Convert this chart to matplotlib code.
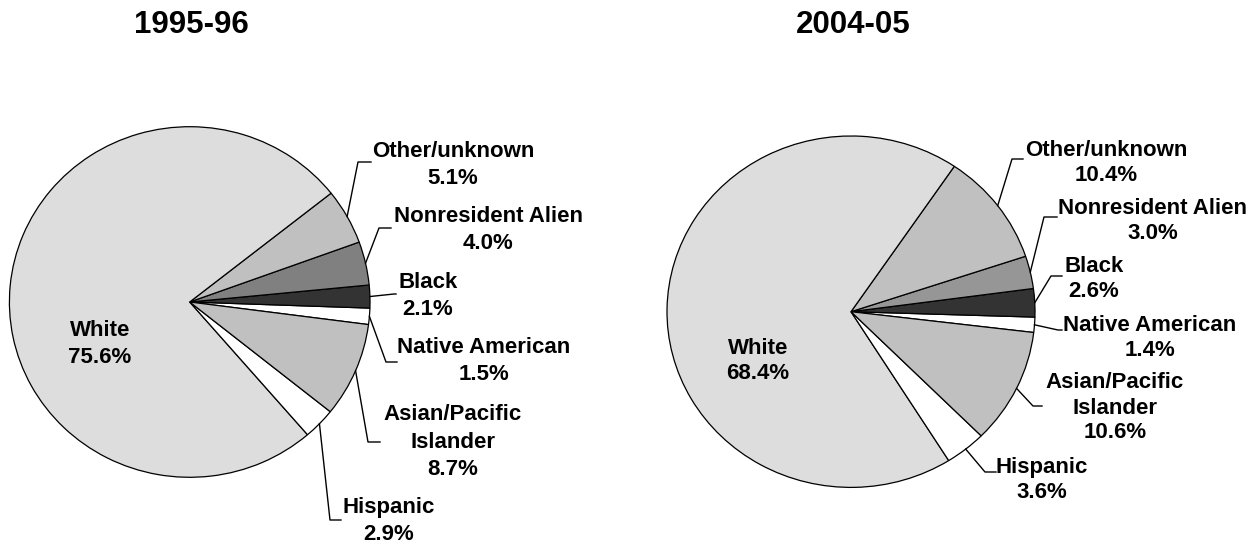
import numpy as np
import matplotlib
matplotlib.use('Agg')
import matplotlib.pyplot as plt

plt.rcParams['font.family'] = ['Liberation Sans', 'DejaVu Sans']
plt.rcParams['font.weight'] = 'bold'

# 데이터
categories = ['Native American', 'Black', 'Nonresident Alien', 'Other/unknown',
              'White', 'Hispanic', 'Asian/Pacific\nIslander']
shares_1995 = [1.5, 2.1, 4.0, 5.1, 75.6, 2.9, 8.7]
shares_2004 = [1.4, 2.6, 3.0, 10.4, 68.4, 3.6, 10.6]
years = ['1995-96', '2004-05']

colors_1995 = ['#FFFFFF', '#333333', '#808080', '#C0C0C0', '#DDDDDD', '#FFFFFF', '#C0C0C0']
colors_2004 = ['#FFFFFF', '#333333', '#969696', '#C0C0C0', '#DDDDDD', '#FFFFFF', '#C0C0C0']

W, H = 1260, 546
fig = plt.figure(figsize=(W / 100, H / 100), dpi=100)

# 파이 위치 (픽셀): 중심 x, 중심 y, 반지름 x, 반지름 y, 시작 각도, 줄간격
pies = [
    dict(cx=189.7, cy=302.0, rx=180.3, ry=175.3, start=-7.4, ls=1.4),
    dict(cx=851.0, cy=311.7, rx=184.0, ry=175.7, start=-6.8, ls=1.25),
]

# 라벨 위치: (라벨 중심 x, y, 꺾임점 x, y, 끝점 x)  / None = 리더선 없음
label_layout = [
    [(484, 361, 386, 362, 397), (428, 296, 394, 294, 396), (488, 230, 379, 228, 391),
     (453, 165, 358, 162, 371), (100, 344, None, None, None), (389, 521, 330, 520, 341),
     (453, 442, 368, 442, 380)],
    [(1150, 338, 1058, 330, 1062), (1094, 279, 1051, 276, 1062), (1153, 221, 1044, 217, 1057),
     (1106, 163, 1012, 159, 1023), (758, 361, None, None, None), (1042, 480, 985, 472, 996),
     (1115, 408, 1033, 406, 1042)],
]

# 오버레이 축 (픽셀 좌표)
over = fig.add_axes([0, 0, 1, 1], zorder=5)
over.set_xlim(0, W)
over.set_ylim(H, 0)
over.axis('off')
over.patch.set_alpha(0)

for shares, cols, p, layout, year in zip([shares_1995, shares_2004], [colors_1995, colors_2004],
                                          pies, label_layout, years):
    ax = fig.add_axes([(p['cx'] - p['rx']) / W, (H - p['cy'] - p['ry']) / H,
                       2 * p['rx'] / W, 2 * p['ry'] / H])
    wedges, _ = ax.pie(shares, colors=cols, startangle=p['start'], counterclock=True,
                       wedgeprops=dict(edgecolor='black', linewidth=0.9))
    ax.set_aspect('auto')
    ax.set_xlim(-1, 1)
    ax.set_ylim(-1, 1)
    ax.axis('off')

    for w, cat, val, lay in zip(wedges, categories, shares, layout):
        lx, ly, ex, ey, endx = lay
        over.text(lx, ly, f'{cat}\n{val:.1f}%', ha='center', va='center',
                  multialignment='center', fontsize=16, fontweight='bold', linespacing=p['ls'])
        if ex is None:
            continue
        th = np.deg2rad((w.theta1 + w.theta2) / 2)
        sx = p['cx'] + p['rx'] * np.cos(th)
        sy = p['cy'] - p['ry'] * np.sin(th)
        over.plot([sx, ex, endx], [sy, ey, ey], color='black', lw=1.0)

    over.text(p['cx'] + 2, 25, year, ha='center', va='center', fontsize=22.5, fontweight='bold')

fig.savefig('out.png', dpi=100)
